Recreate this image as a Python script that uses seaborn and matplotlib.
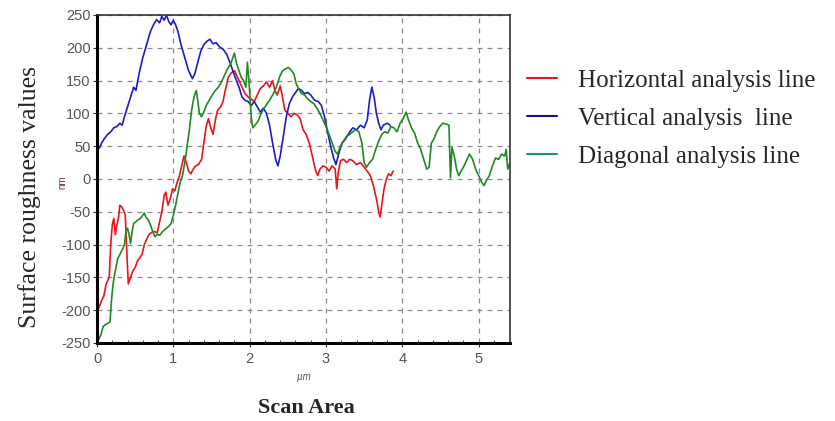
import numpy as np
import pandas as pd
import matplotlib
matplotlib.use("Agg")
import matplotlib.pyplot as plt
from matplotlib.ticker import MultipleLocator
import seaborn as sns

# Horizontal analysis line (red)
horiz_x = [0.00, 0.03, 0.06, 0.09, 0.12, 0.14, 0.16, 0.18, 0.20, 0.22, 0.24, 0.26, 0.28, 0.30,
           0.32, 0.35, 0.37, 0.39, 0.41, 0.44, 0.47, 0.50, 0.53, 0.56, 0.59, 0.62, 0.65, 0.68,
           0.71, 0.75, 0.79, 0.82, 0.85, 0.88, 0.90, 0.93, 0.96, 0.99, 1.02, 1.05, 1.08, 1.11,
           1.14, 1.17, 1.20, 1.23, 1.26, 1.29, 1.33, 1.37, 1.40, 1.43, 1.46, 1.49, 1.52, 1.55,
           1.58, 1.62, 1.65, 1.68, 1.72, 1.76, 1.80, 1.83, 1.86, 1.90, 1.94, 1.98, 2.02, 2.06,
           2.10, 2.14, 2.18, 2.22, 2.26, 2.30, 2.33, 2.36, 2.40, 2.43, 2.46, 2.50, 2.54, 2.58,
           2.62, 2.66, 2.70, 2.74, 2.78, 2.82, 2.86, 2.89, 2.92, 2.96, 3.00, 3.04, 3.08, 3.12,
           3.14, 3.16, 3.19, 3.23, 3.27, 3.31, 3.35, 3.40, 3.45, 3.50, 3.54, 3.58, 3.62, 3.66,
           3.69, 3.71, 3.73, 3.76, 3.79, 3.82, 3.85, 3.88]
horiz_y = [-200, -195, -185, -178, -160, -155, -150, -100, -70, -60, -85, -70, -60, -40,
           -42, -48, -55, -110, -160, -150, -140, -135, -125, -120, -115, -100, -92, -85,
           -82, -80, -82, -65, -50, -25, -20, -40, -30, -15, -18, -5, 5, 20,
           35, 25, 12, 8, 15, 20, 22, 30, 55, 80, 92, 78, 68, 90,
           105, 110, 118, 135, 155, 162, 165, 158, 150, 140, 130, 125, 122, 118,
           128, 138, 142, 148, 140, 150, 135, 128, 142, 125, 105, 100, 95, 100,
           98, 92, 75, 68, 55, 35, 15, 5, 15, 20, 18, 12, 20, 15,
           -15, 10, 28, 30, 25, 30, 28, 22, 25, 18, 12, 5, -10, -30,
           -50, -58, -40, -15, 0, 8, 5, 12]

# Vertical analysis line (blue)
vert_x = [0.00, 0.03, 0.06, 0.10, 0.14, 0.18, 0.22, 0.26, 0.30, 0.33, 0.36, 0.40, 0.44, 0.48,
          0.51, 0.55, 0.60, 0.65, 0.70, 0.74, 0.78, 0.82, 0.85, 0.88, 0.91, 0.94, 0.97, 1.00,
          1.03, 1.06, 1.10, 1.15, 1.20, 1.25, 1.28, 1.32, 1.36, 1.40, 1.44, 1.48, 1.52, 1.56,
          1.60, 1.65, 1.70, 1.74, 1.78, 1.82, 1.86, 1.90, 1.94, 1.98, 2.02, 2.06, 2.10, 2.14,
          2.18, 2.22, 2.26, 2.30, 2.34, 2.37, 2.40, 2.44, 2.48, 2.52, 2.56, 2.60, 2.64, 2.68,
          2.72, 2.76, 2.80, 2.85, 2.90, 2.94, 2.98, 3.02, 3.06, 3.10, 3.13, 3.17, 3.21, 3.25,
          3.30, 3.35, 3.40, 3.45, 3.50, 3.54, 3.57, 3.60, 3.63, 3.66, 3.69, 3.72, 3.75, 3.80,
          3.84]
vert_y = [50, 47, 55, 62, 68, 72, 78, 80, 85, 82, 95, 110, 125, 140,
          135, 160, 185, 205, 225, 235, 243, 238, 248, 242, 250, 240, 235, 242,
          235, 225, 205, 185, 165, 153, 160, 178, 195, 205, 210, 213, 206, 208,
          202, 198, 190, 178, 165, 152, 140, 125, 120, 118, 112, 118, 110, 102,
          108, 100, 82, 55, 30, 20, 35, 65, 95, 115, 125, 132, 138, 135,
          130, 132, 128, 120, 118, 112, 95, 72, 50, 32, 22, 40, 55, 60,
          70, 78, 75, 82, 78, 90, 120, 140, 125, 100, 85, 75, 82, 85,
          82]

# Diagonal analysis line (green)
diag_x = [0.00, 0.02, 0.05, 0.08, 0.11, 0.14, 0.17, 0.19, 0.21, 0.24, 0.27, 0.30, 0.33, 0.36,
          0.38, 0.40, 0.42, 0.44, 0.46, 0.48, 0.51, 0.54, 0.57, 0.60, 0.62, 0.64, 0.67, 0.70,
          0.73, 0.76, 0.79, 0.82, 0.86, 0.90, 0.94, 0.97, 1.00, 1.03, 1.06, 1.09, 1.12, 1.15,
          1.18, 1.21, 1.24, 1.27, 1.30, 1.32, 1.34, 1.37, 1.40, 1.43, 1.47, 1.51, 1.55, 1.59,
          1.63, 1.67, 1.71, 1.75, 1.78, 1.80, 1.83, 1.86, 1.89, 1.92, 1.95, 1.97, 1.99, 2.02,
          2.04, 2.07, 2.11, 2.15, 2.19, 2.23, 2.27, 2.31, 2.35, 2.39, 2.43, 2.47, 2.51, 2.55,
          2.58, 2.61, 2.64, 2.68, 2.72, 2.76, 2.80, 2.84, 2.88, 2.92, 2.96, 3.00, 3.04, 3.08,
          3.12, 3.15, 3.19, 3.23, 3.27, 3.31, 3.35, 3.39, 3.43, 3.47, 3.50, 3.53, 3.57, 3.61,
          3.65, 3.69, 3.73, 3.77, 3.81, 3.85, 3.89, 3.93, 3.97, 4.01, 4.05, 4.08, 4.12, 4.16,
          4.20, 4.24, 4.28, 4.32, 4.35, 4.38, 4.41, 4.45, 4.49, 4.53, 4.57, 4.61, 4.63, 4.65,
          4.68, 4.71, 4.74, 4.77, 4.80, 4.84, 4.88, 4.92, 4.96, 5.00, 5.04, 5.07, 5.10, 5.14,
          5.18, 5.22, 5.26, 5.30, 5.34, 5.36, 5.38, 5.41]
diag_y = [-250, -245, -238, -225, -222, -220, -218, -185, -160, -140, -122, -115, -108, -100,
          -80, -75, -85, -98, -80, -68, -65, -62, -60, -55, -52, -58, -62, -70,
          -80, -88, -84, -86, -80, -76, -72, -68, -55, -40, -22, -5, 5, 25,
          50, 75, 105, 125, 135, 120, 100, 95, 102, 112, 120, 128, 135, 140,
          148, 158, 168, 175, 185, 192, 175, 165, 155, 150, 140, 178, 150, 95,
          78, 82, 88, 100, 108, 115, 122, 130, 140, 155, 165, 168, 170, 165,
          160, 145, 138, 130, 128, 122, 118, 115, 108, 100, 90, 80, 68, 55,
          42, 38, 50, 58, 65, 68, 72, 75, 72, 55, 25, 18, 25, 30,
          45, 58, 68, 72, 70, 80, 78, 72, 85, 92, 102, 90, 78, 70,
          55, 45, 30, 15, 18, 55, 60, 72, 80, 85, 84, 82, 2, 48,
          35, 15, 5, 12, 18, 28, 38, 30, 15, 5, -5, -10, -2, 5,
          20, 32, 30, 38, 35, 45, 15, 25]

series_names = ["Horizontal analysis line", "Vertical analysis  line", "Diagonal analysis line"]
line_colors = ["#e8161b", "#1c1cc8", "#1f8a22"]
legend_colors = ["#e8161b", "#15157a", "#1b9a63"]


def build_frame():
    parts = []
    for name, xs, ys in zip(series_names,
                            [horiz_x, vert_x, diag_x],
                            [horiz_y, vert_y, diag_y]):
        parts.append(pd.DataFrame({"x": xs, "y": ys, "line": name}))
    return pd.concat(parts, ignore_index=True)


def main():
    sns.set_style("white")
    plt.rcParams["font.family"] = ["Liberation Sans", "DejaVu Sans"]
    plt.rcParams["axes.unicode_minus"] = False

    df = build_frame()

    fig = plt.figure(figsize=(8.35, 4.21), dpi=100)
    ax = fig.add_axes([97 / 835, 1 - 343 / 421, 413 / 835, 328 / 421])

    sns.lineplot(data=df, x="x", y="y", hue="line", palette=line_colors,
                 hue_order=series_names, sort=False, estimator=None,
                 linewidth=1.2, ax=ax, legend=False)

    ax.set_xlim(0, 5.41)
    ax.set_ylim(-250, 250)
    ax.xaxis.set_major_locator(MultipleLocator(1))
    ax.xaxis.set_minor_locator(MultipleLocator(0.2))
    ax.yaxis.set_major_locator(MultipleLocator(50))
    ax.grid(True, which="major", linestyle=(0, (4, 4)), color="#8a8a8a", linewidth=0.9)
    ax.tick_params(axis="both", which="major", labelsize=10.5, colors="#333333",
                   labelcolor="#555555", length=3, direction="out",
                   left=True, bottom=True)
    ax.tick_params(axis="y", which="major", pad=1.5)
    ax.tick_params(axis="x", which="major", pad=3.5)
    ax.tick_params(axis="x", which="minor", length=2, bottom=True, direction="in")
    ax.set_xlabel("")
    ax.set_ylabel("")

    for side in ["left", "bottom"]:
        ax.spines[side].set_linewidth(2.2)
        ax.spines[side].set_color("black")
    for side in ["top", "right"]:
        ax.spines[side].set_linewidth(1.2)
        ax.spines[side].set_color("#333333")

    # axis unit labels
    fig.text(62 / 835, 1 - 182 / 421, "nm", rotation=90, fontsize=7,
             color="#6a3a3a", ha="center", va="center")
    fig.text(304 / 835, 1 - 377 / 421, "µm", fontsize=7, style="italic",
             color="#555555", ha="center", va="center")

    serif = ["Liberation Serif", "DejaVu Serif"]
    fig.text(30 / 835, 1 - 197 / 421, "Surface roughness values", rotation=90,
             fontsize=18.5, family=serif, ha="center", va="center")
    fig.text(306 / 835, 1 - 408 / 421, "Scan Area", fontsize=16, family=serif,
             fontweight="bold", ha="center", va="center")

    # legend next to the axes
    handles = [plt.Line2D([], [], color=c, linewidth=1.5) for c in legend_colors]
    fig.legend(handles, series_names, loc="upper left",
               bbox_to_anchor=(504 / 835, 1 - 47 / 421), frameon=False,
               prop={"family": serif, "size": 18}, handlelength=1.2,
               handletextpad=0.85, labelspacing=0.62)

    fig.savefig("out.png", dpi=100)
    plt.close(fig)


if __name__ == "__main__":
    main()
